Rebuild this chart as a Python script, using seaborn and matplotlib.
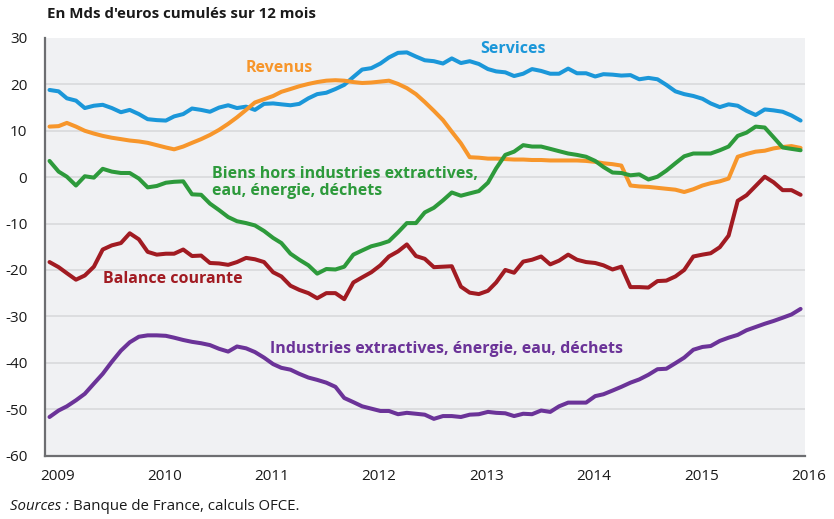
import matplotlib
matplotlib.use('Agg')
import matplotlib.pyplot as plt
import matplotlib.dates as mdates
import matplotlib.transforms as mtransforms
import numpy as np
import pandas as pd
import seaborn as sns

# monthly values, Jan 2009 .. Jan 2016 (Mds d'euros, cumul 12 mois)
MONTHS = pd.date_range('2009-01-01', periods=85, freq='MS') + pd.Timedelta(days=14)

services = [
    18.8, 18.5, 17.0, 16.5, 14.9, 15.4, 15.6, 14.9, 14.0, 14.5, 13.6, 12.5,
    12.3, 12.2, 13.1, 13.6, 14.8, 14.5, 14.1, 15.0, 15.5, 14.9, 15.2, 14.5,
    15.8, 15.9, 15.7, 15.5, 15.8, 17.0, 17.9, 18.2, 19.0, 19.9, 21.6, 23.2,
    23.5, 24.5, 25.8, 26.8, 26.9, 26.0, 25.2, 25.0, 24.5, 25.6, 24.6, 25.0,
    24.4, 23.3, 22.8, 22.6, 21.8, 22.3, 23.3, 22.9, 22.3, 22.3, 23.4, 22.4,
    22.4, 21.7, 22.2, 22.1, 21.9, 22.0, 21.1, 21.4, 21.1, 19.9, 18.5, 17.9,
    17.5, 16.9, 15.9, 15.1, 15.7, 15.4, 14.3, 13.4, 14.6, 14.4, 14.1, 13.3,
    12.2,
]
revenus = [
    10.9, 11.0, 11.7, 10.9, 10.0, 9.4, 8.9, 8.5, 8.2, 7.9, 7.7, 7.4,
    6.9, 6.4, 6.0, 6.6, 7.4, 8.2, 9.1, 10.2, 11.5, 12.9, 14.5, 16.1,
    16.8, 17.5, 18.4, 19.0, 19.6, 20.1, 20.5, 20.8, 20.9, 20.8, 20.5, 20.3,
    20.4, 20.6, 20.8, 20.1, 19.2, 17.9, 16.2, 14.3, 12.3, 9.8, 7.3, 4.3,
    4.2, 4.0, 4.0, 3.9, 3.8, 3.8, 3.7, 3.7, 3.6, 3.6, 3.6, 3.6,
    3.5, 3.3, 3.0, 2.8, 2.5, -1.8, -2.0, -2.1, -2.3, -2.5, -2.7, -3.2,
    -2.6, -1.8, -1.3, -0.9, -0.3, 4.4, 5.0, 5.5, 5.7, 6.2, 6.5, 6.7,
    6.3,
]
biens = [
    3.5, 1.2, 0.1, -1.8, 0.2, -0.1, 1.8, 1.2, 0.9, 0.9, -0.3, -2.2,
    -1.9, -1.2, -1.0, -0.9, -3.7, -3.8, -5.7, -7.1, -8.6, -9.5, -9.9, -10.4,
    -11.6, -13.1, -14.2, -16.5, -17.8, -19.0, -20.8, -19.8, -19.9, -19.3, -16.7, -15.8,
    -14.9, -14.4, -13.8, -11.9, -9.9, -9.9, -7.6, -6.6, -5.0, -3.3, -4.0, -3.5,
    -3.0, -1.2, 1.9, 4.8, 5.5, 6.9, 6.6, 6.6, 6.1, 5.6, 5.1, 4.8,
    4.4, 3.5, 2.2, 1.0, 0.9, 0.4, 0.6, -0.5, 0.1, 1.4, 3.0, 4.5,
    5.1, 5.1, 5.1, 5.8, 6.6, 8.9, 9.6, 10.9, 10.7, 8.6, 6.4, 6.1,
    5.8,
]
balance = [
    -18.3, -19.4, -20.7, -22.1, -21.2, -19.3, -15.6, -14.7, -14.2, -12.1, -13.4, -16.1,
    -16.7, -16.5, -16.5, -15.6, -17.0, -16.9, -18.5, -18.6, -18.9, -18.3, -17.4, -17.7,
    -18.3, -20.5, -21.4, -23.4, -24.3, -25.0, -26.1, -25.0, -25.0, -26.3, -22.7, -21.6,
    -20.5, -19.0, -17.1, -16.0, -14.5, -17.0, -17.6, -19.4, -19.3, -19.2, -23.6, -24.9,
    -25.2, -24.5, -22.7, -20.0, -20.6, -18.2, -17.8, -17.1, -18.8, -18.0, -16.7, -17.8,
    -18.3, -18.5, -19.0, -19.9, -19.3, -23.7, -23.7, -23.8, -22.4, -22.3, -21.4, -20.0,
    -17.1, -16.7, -16.4, -15.1, -12.6, -5.1, -3.9, -1.9, 0.1, -1.1, -2.8, -2.8,
    -3.8,
]
industries = [
    -51.7, -50.3, -49.4, -48.1, -46.7, -44.5, -42.4, -39.8, -37.4, -35.6, -34.4, -34.1,
    -34.1, -34.2, -34.6, -35.1, -35.5, -35.8, -36.2, -37.0, -37.6, -36.5, -36.9, -37.7,
    -38.9, -40.3, -41.1, -41.5, -42.4, -43.2, -43.7, -44.3, -45.2, -47.6, -48.5, -49.4,
    -49.9, -50.4, -50.4, -51.1, -50.8, -51.0, -51.2, -52.1, -51.5, -51.5, -51.7, -51.2,
    -51.1, -50.6, -50.8, -50.9, -51.5, -51.0, -51.1, -50.3, -50.6, -49.4, -48.6, -48.6,
    -48.6, -47.2, -46.8, -46.0, -45.2, -44.3, -43.6, -42.6, -41.4, -41.3, -40.1, -38.9,
    -37.2, -36.6, -36.4, -35.3, -34.6, -34.0, -33.0, -32.3, -31.6, -31.0, -30.3, -29.6,
    -28.4,
]

SERIES = {
    'Services': services,
    'Revenus': revenus,
    'Biens': biens,
    'Balance courante': balance,
    'Industries': industries,
}
COLORS = {
    'Services': '#1b97d9',
    'Revenus': '#f7962b',
    'Biens': '#2d9a3b',
    'Balance courante': '#a11b22',
    'Industries': '#6b3398',
}

df = pd.concat(
    [pd.DataFrame({'date': MONTHS, 'value': v, 'serie': k}) for k, v in SERIES.items()],
    ignore_index=True,
)

sns.set_theme(style='white')
plt.rcParams['font.family'] = ['Open Sans', 'DejaVu Sans']
plt.rcParams['axes.unicode_minus'] = False

fig = plt.figure(figsize=(8.34, 5.19), dpi=100)
ax = fig.add_axes([45.4 / 834, 1 - 455.5 / 519, (805 - 45.4) / 834, (455.5 - 38) / 519])
ax.set_facecolor('#f0f1f3')

for y in range(-50, 30, 10):
    ax.axhline(y, color='#d8d9dc', linewidth=1.2, zorder=0)

sns.lineplot(data=df, x='date', y='value', hue='serie', palette=COLORS,
             linewidth=2.9, legend=False, ax=ax, zorder=3)

ax.set_xlim(pd.Timestamp('2009-01-01'), pd.Timestamp('2016-01-30'))
ax.set_ylim(-60, 30)
ax.set_yticks(range(-60, 31, 10))
ax.xaxis.set_major_locator(mdates.YearLocator())
ax.xaxis.set_major_formatter(mdates.DateFormatter('%Y'))
ax.set_xlabel('')
ax.set_ylabel('')

for side in ['top', 'right']:
    ax.spines[side].set_visible(False)
for side in ['left', 'bottom']:
    ax.spines[side].set_color('#6d6e71')
    ax.spines[side].set_linewidth(1.6)

ax.tick_params(axis='both', colors='#6d6e71', labelcolor='#1a1a1a', labelsize=11,
               length=5, width=1.0, direction='out')
ax.tick_params(axis='x', pad=5)
ax.tick_params(axis='y', pad=8)

offset = mtransforms.ScaledTranslation(0.12, 0, fig.dpi_scale_trans)
for lab in ax.get_xticklabels():
    lab.set_transform(lab.get_transform() + offset)

labels = [
    ('Services', '2013-01-20', 27.7, 'Services'),
    ('Revenus', '2010-11-12', 23.6, 'Revenus'),
    ('Biens', '2010-07-22', -1.2, 'Biens hors industries extractives,\neau, énergie, déchets'),
    ('Balance courante', '2009-07-15', -21.9, 'Balance courante'),
    ('Industries', '2011-02-03', -37.1, 'Industries extractives, énergie, eau, déchets'),
]
for key, x, y, txt in labels:
    ax.text(pd.Timestamp(x), y, txt, color=COLORS[key], fontsize=11.5, fontweight='bold',
            ha='left', va='center', linespacing=1.05, zorder=4)

fig.text(47 / 834, 1 - 14 / 519, "En Mds d'euros cumulés sur 12 mois",
         fontsize=10.8, fontweight='bold', color='#1a1a1a', va='center', ha='left')
src = fig.text(10 / 834, 1 - 507 / 519, 'Sources :', fontsize=10.8, style='italic',
               color='#1a1a1a', va='center', ha='left')
fig.canvas.draw()
bb = src.get_window_extent()
fig.text((bb.x1 + 4) / 834, 1 - 507 / 519, 'Banque de France, calculs OFCE.', fontsize=10.8,
         color='#1a1a1a', va='center', ha='left')

fig.savefig('out.png', dpi=100)
